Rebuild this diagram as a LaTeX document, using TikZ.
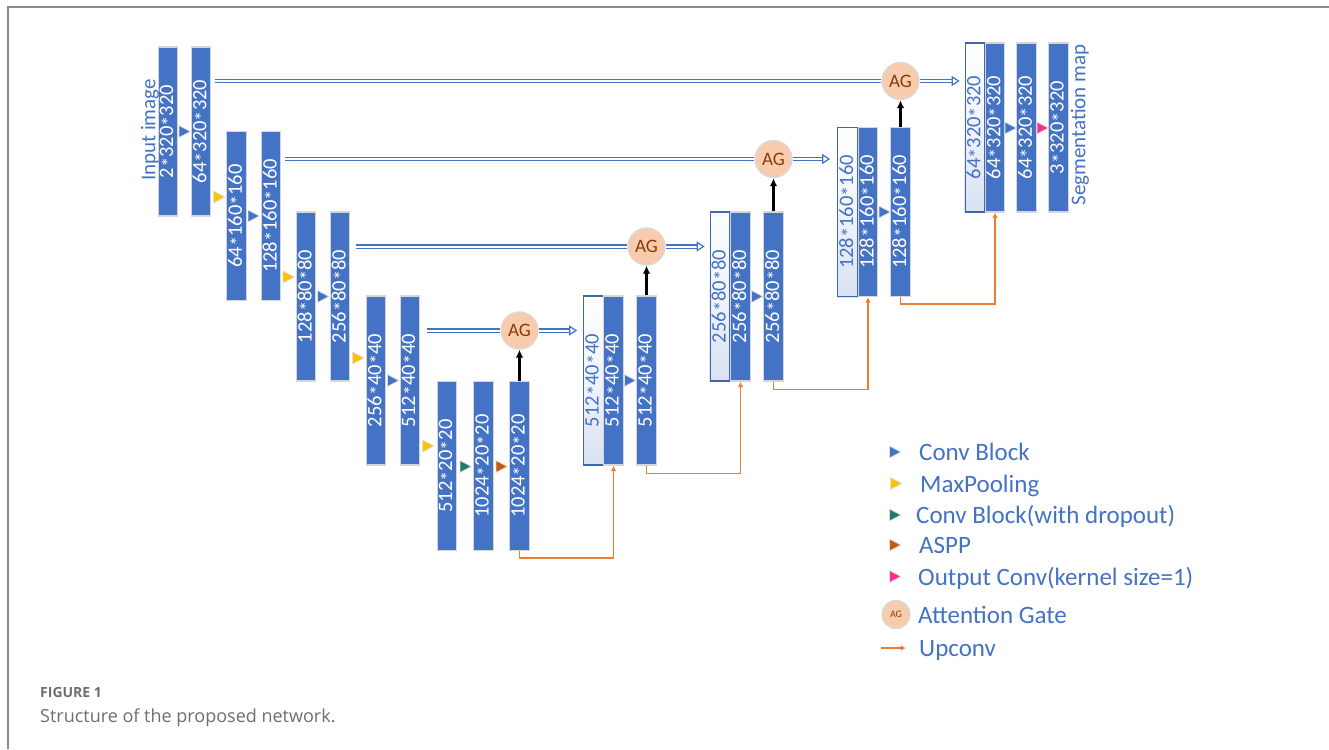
\documentclass[tikz,border=0pt]{standalone}
\usepackage{fontspec}
\setmainfont{Carlito}
\newfontfamily\capfont{Open Sans}
\usetikzlibrary{arrows.meta,calc,backgrounds}
\newcommand\mulst{\raisebox{-0.3ex}{*}}
\definecolor{barblue}{HTML}{4472C4}
\definecolor{baredge}{HTML}{D6D6D6}
\definecolor{wedge}{HTML}{3F67B0}
\definecolor{wbot}{HTML}{D9E1F2}
\definecolor{txtblue}{HTML}{4472C4}
\definecolor{agfill}{HTML}{F8CBAD}
\definecolor{agedge}{HTML}{D9D9D9}
\definecolor{agtext}{HTML}{843C0C}
\definecolor{linkblue}{HTML}{4472C4}
\definecolor{upor}{HTML}{ED7D31}
\definecolor{convblue}{HTML}{4472C4}
\definecolor{pooly}{HTML}{FFC000}
\definecolor{tealc}{HTML}{217A6B}
\definecolor{brownc}{HTML}{C55A11}
\definecolor{pinkc}{HTML}{FF2D8A}
\definecolor{capgray}{HTML}{6E6E6E}
\definecolor{framegray}{HTML}{8A8A8A}
\tikzset{
  bar/.style={rectangle, rotate=90, minimum width=169pt, minimum height=19.5pt,
    inner sep=0pt, fill=barblue, draw=baredge, line width=1.2pt, text=white,
    font=\fontsize{20.5}{24}\selectfont},
  wbar/.style={bar, fill=none, draw=wedge, text=txtblue},
  wshade/.style={top color=white, bottom color=wbot, middle color=white!60!wbot, draw=none},
  ag/.style={circle, fill=agfill, draw=agedge, line width=1.3pt, minimum size=37pt,
    inner sep=0pt, text=agtext, font=\fontsize{19}{22}\selectfont},
  skipline/.style={draw=linkblue, double=white, double distance=2pt, line width=1.2pt},
  skip/.style={skipline, -{Triangle[open,length=8pt,width=10pt]}},
  gate/.style={black, line width=2.2pt, -{Latex[length=8pt,width=7.5pt]}},
  upconv/.style={draw=upor, line width=1.7pt, -{Latex[length=5.5pt,width=5.5pt]}},
  legtext/.style={anchor=base west, inner sep=0pt, text=txtblue, font=\fontsize{25}{28}\selectfont},
  sidelabel/.style={rotate=90, inner sep=0pt, text=txtblue, font=\fontsize{21}{24}\selectfont},
  tri/.pic={\path[draw=black!12, line width=0.8pt, line join=round, pic actions]
    (-5.5,-6) -- (6,0) -- (-5.5,6) -- cycle;},
}
\begin{document}
\begin{tikzpicture}[x=1pt,y=-1pt]
\useasboundingbox (0,0) rectangle (1329,749);
\begin{scope}[on background layer]
\fill[white] (0,0) rectangle (1329,749);
\end{scope}
% frame
\draw[framegray, line width=1.5pt] (8,749) -- (8,7) -- (1329,7);

% encoder
\node[bar] (e1a) at (168,131.5) {2\mulst320\mulst320};
\node[bar] (e1b) at (201,131.5) {64\mulst320\mulst320};
\node[bar] (e2a) at (236.5,216) {64\mulst160\mulst160};
\node[bar] (e2b) at (271,216) {128\mulst160\mulst160};
\node[bar] (e3a) at (306,296.5) {128\mulst80\mulst80};
\node[bar] (e3b) at (340,296.5) {256\mulst80\mulst80};
\node[bar] (e4a) at (376,380.5) {256\mulst40\mulst40};
\node[bar] (e4b) at (410,380.5) {512\mulst40\mulst40};
\node[bar] (e5a) at (447,466) {512\mulst20\mulst20};
\node[bar] (e5b) at (483.5,466) {1024\mulst20\mulst20};
\node[bar] (e5c) at (519.5,466) {1024\mulst20\mulst20};

% decoder
\node[wbar] (d4w) at (593.5,380.5) {512\mulst40\mulst40};
\node[bar]  (d4a) at (613.5,380.5) {512\mulst40\mulst40};
\node[bar]  (d4b) at (646.5,380.5) {512\mulst40\mulst40};
\node[wbar] (d3w) at (720,296.5) {256\mulst80\mulst80};
\node[bar]  (d3a) at (740.5,296.5) {256\mulst80\mulst80};
\node[bar]  (d3b) at (773.5,296.5) {256\mulst80\mulst80};
\node[wbar] (d2w) at (847.5,212) {128\mulst160\mulst160};
\node[bar]  (d2a) at (868,212) {128\mulst160\mulst160};
\node[bar]  (d2b) at (900.5,212) {128\mulst160\mulst160};
\node[wbar] (d1w) at (975,127.5) {64\mulst320\mulst320};
\node[bar]  (d1a) at (995,127.5) {64\mulst320\mulst320};
\node[bar]  (d1b) at (1026.5,127.5) {64\mulst320\mulst320};
\node[bar]  (d1c) at (1058.5,127.5) {3\mulst320\mulst320};

% gradient fill of the concatenated (white) blocks
\begin{scope}[on background layer]
\shade[wshade] (d4w.north east) rectangle (d4w.south west);
\shade[wshade] (d3w.north east) rectangle (d3w.south west);
\shade[wshade] (d2w.north east) rectangle (d2w.south west);
\shade[wshade] (d1w.north east) rectangle (d1w.south west);
\end{scope}

\node[sidelabel] (inlab) at (150,130) {Input image};
\node[sidelabel] (seglab) at (1080,125) {Segmentation map};

% attention gates
\node[ag] (ag1) at (900.5,81) {AG};
\node[ag] (ag2) at (773.5,159) {AG};
\node[ag] (ag3) at (646.5,246.5) {AG};
\node[ag] (ag4) at (519.5,330.5) {AG};

% skip connections
\draw[skipline, shorten <=4pt] (e1b.south |- ag1.center) -- (ag1.west);
\draw[skip, shorten >=5pt] (ag1.east) -- (ag1.east -| d1w.north);
\draw[skipline, shorten <=4pt] (e2b.south |- ag2.center) -- (ag2.west);
\draw[skip, shorten >=7pt] (ag2.east) -- (ag2.east -| d2w.north);
\draw[skipline, shorten <=6pt] (e3b.south |- ag3.center) -- (ag3.west);
\draw[skip, shorten >=5pt] (ag3.east) -- (ag3.east -| d3w.north);
\draw[skipline, shorten <=7pt] (e4b.south |- ag4.center) -- (ag4.west);
\draw[skip, shorten >=6pt] (ag4.east) -- (ag4.east -| d4w.north);

% gating arrows
\draw[gate] (e5c.east) -- (ag4.south);
\draw[gate] (d4b.east) -- (ag3.south);
\draw[gate] (d3b.east) -- (ag2.south);
\draw[gate] (d2b.east) -- (ag1.south);

% upconv
\draw[upconv] (e5c.west) -- ++(0,7) -| (d4a.west);
\draw[upconv] (d4b.west) -- ++(0,8) -| (d3a.west);
\draw[upconv] (d3b.west) -- ++(0,8) -| (d2a.west);
\draw[upconv] (d2b.west) -- ++(0,7) -| (d1a.west);

% operation triangles
\pic[fill=convblue] at (184.5,131.5) {tri};
\pic[fill=pooly] at (219,197) {tri};
\pic[fill=convblue] at (253.5,216) {tri};
\pic[fill=pooly] at (288.5,277) {tri};
\pic[fill=convblue] at (323,296.5) {tri};
\pic[fill=pooly] at (358,358) {tri};
\pic[fill=convblue] at (393,380.5) {tri};
\pic[fill=pooly] at (428,446) {tri};
\pic[fill=tealc] at (465.5,466.5) {tri};
\pic[fill=brownc] at (501.5,466.5) {tri};
\pic[fill=convblue] at (630,380.5) {tri};
\pic[fill=convblue] at (757,296.5) {tri};
\pic[fill=convblue] at (884.5,212) {tri};
\pic[fill=convblue] at (1010.5,128) {tri};
\pic[fill=pinkc] at (1042.5,128) {tri};

% legend
\pic[fill=convblue] at (895,452) {tri};
\node[legtext] (l1) at (919,460.5) {Conv Block};
\pic[fill=pooly] at (896,483.5) {tri};
\node[legtext] (l2) at (920,492) {MaxPooling};
\pic[fill=tealc] at (895,515) {tri};
\node[legtext] (l3) at (916,523.5) {Conv Block(with dropout)};
\pic[fill=brownc] at (895,545) {tri};
\node[legtext] (l4) at (919,553.5) {ASPP};
\pic[fill=pinkc] at (895,576.5) {tri};
\node[legtext] (l5) at (918,585) {Output Conv(kernel size=1)};
\node[ag, minimum size=28pt, font=\fontsize{10}{12}\selectfont] (lag) at (896,614.5) {AG};
\node[legtext] (l6) at (918,623) {Attention Gate};
\coordinate (lu1) at (881,648);
\coordinate (lu2) at (906,648);
\draw[upconv] (lu1) -- (lu2);
\node[legtext] (l7) at (919,656.5) {Upconv};

% caption
\node[anchor=base west, inner sep=0pt, text=capgray, font=\capfont\bfseries\fontsize{14}{16}\selectfont] (fig) at (40,697) {FIGURE 1};
\node[anchor=base west, inner sep=0pt, text=capgray, font=\capfont\fontsize{18}{21}\selectfont] (cap) at (40,722) {Structure of the proposed network.};
\end{tikzpicture}
\end{document}
